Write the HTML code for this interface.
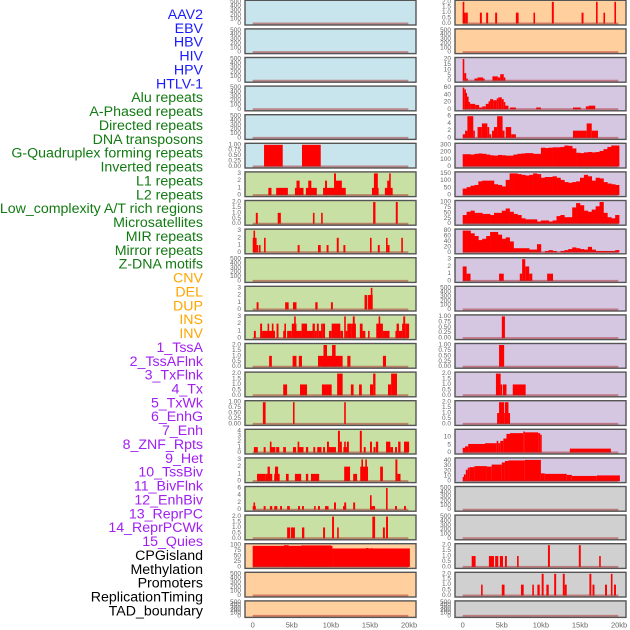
<!DOCTYPE html>
<html><head><meta charset="utf-8">
<style>
html,body{margin:0;padding:0;background:#fff;}
svg{display:block;font-family:"Liberation Sans",sans-serif;}
</style></head>
<body>
<svg id="chart" width="630" height="630" viewBox="0 0 630 630" xmlns="http://www.w3.org/2000/svg"></svg>
<script>
// ---------- labels ----------
const labelNames = ["AAV2","EBV","HBV","HIV","HPV","HTLV-1","Alu repeats","A-Phased repeats","Directed repeats","DNA transposons","G-Quadruplex forming repeats","Inverted repeats","L1 repeats","L2 repeats","Low_complexity A/T rich regions","Microsatellites","MIR repeats","Mirror repeats","Z-DNA motifs","CNV","DEL","DUP","INS","INV","1_TssA","2_TssAFlnk","3_TxFlnk","4_Tx","5_TxWk","6_EnhG","7_Enh","8_ZNF_Rpts","9_Het","10_TssBiv","11_BivFlnk","12_EnhBiv","13_ReprPC","14_ReprPCWk","15_Quies","CPGisland","Methylation","Promoters","ReplicationTiming","TAD_boundary"];
const labelGroups = [0,0,0,0,0,0,1,1,1,1,1,1,1,1,1,1,1,1,1,2,2,2,2,2,3,3,3,3,3,3,3,3,3,3,3,3,3,3,3,4,4,4,4,4];
const groupColors = ["#1a1aff","#127a12","#ffa500","#a020f0","#000000"];
const groupBg = ["#c8e4ec","#c8e0a4","#ffcf9e","#d5c6e2","#d0d0d0"];

// ---------- x axis ----------
const xTickValues = [0,5,10,15,20];
const xTickLabels = ["0","5kb","10kb","15kb","20kb"];

// ---------- per-panel data: segments [startKb, endKb, value] ----------
const segs_HTLV1 = [[1.45,3.84,1],[6.3,8.7,1]];
const segs_Alu = [[2.0,2.4,1],[3.0,4.5,1],[5.4,6.5,1],[5.6,6.0,2],[6.8,8.2,1],[7.1,7.5,2],[9.0,11.9,1],[9.25,9.5,2],[10.4,10.65,3],[10.65,11.4,2],[15.25,16.1,1],[15.5,16.0,3],[16.9,17.9,1],[17.2,17.6,2],[17.45,17.65,3]];
const segs_APhased = [[0.4,0.65,1],[3.2,3.6,1],[7.7,7.9,1],[8.75,8.95,1],[15.4,15.7,2],[18.3,18.55,2]];
const segs_Directed = [[0,0.5,2],[0.1,0.25,3],[0.5,0.7,1],[0.8,1.0,1],[1.45,1.65,2],[5.75,6.0,1],[8.35,8.7,1],[9.45,9.7,1],[10.75,11.0,2],[11.6,11.85,1],[15.0,15.2,2],[16.0,16.25,1],[17.05,17.25,2],[17.25,17.5,1],[19.0,19.2,2]];
const segs_GQuad = [[0.5,0.75,1],[4.15,4.6,1],[5.15,5.6,1],[8.0,8.3,1],[10.0,10.25,1],[14.3,14.65,2],[14.75,15.35,2],[15.1,15.2,3]];
const segs_Inverted = [[0.15,0.4,1],[0.95,1.2,2],[1.2,2.85,1],[1.9,2.05,2],[2.45,2.65,2],[3.05,3.3,2],[3.9,4.25,1],[4.05,4.25,2],[4.4,5.0,1],[5.0,5.6,2],[5.3,5.45,3],[5.6,6.25,1],[6.25,6.95,2],[6.95,7.65,1],[7.65,7.95,2],[7.95,8.2,1],[8.2,8.45,2],[8.45,8.8,1],[8.75,8.9,2],[8.95,9.25,2],[9.75,10.1,1],[10.1,11.2,2],[11.2,11.55,1],[11.7,11.9,3],[11.9,12.1,1],[12.1,12.65,2],[12.65,13.2,2],[12.8,13.05,3],[13.7,14.05,2],[14.05,14.4,1],[14.75,14.95,1],[15.8,16.65,2],[16.1,16.3,3],[16.65,17.5,1],[18.25,18.55,1],[18.4,18.7,2],[18.7,19.1,1],[19.1,19.4,2],[19.25,19.5,3],[19.5,20.0,2]];
const segs_L1 = [[2.1,2.45,1],[5.1,5.6,1],[5.9,6.3,1],[8.35,9.4,1],[9.05,9.5,2],[9.4,11.5,1],[10.15,10.6,2],[12.1,12.5,1],[16.65,17.05,1]];
const segs_L2 = [[3.9,4.4,1],[6.05,6.95,1],[8.85,10.1,1],[10.8,11.5,2],[12.55,12.9,1],[13.6,13.95,1],[15.0,15.4,1],[15.4,15.7,2],[17.3,17.7,1],[17.7,18.45,2]];
const segs_LowComplex = [[1.3,1.65,1],[5.15,5.35,1],[11.7,11.9,1]];
const segs_Micro = [[0.15,0.65,1],[1.4,1.65,1],[2.2,2.9,1],[2.2,2.4,2],[3.0,3.4,1],[3.9,4.25,1],[5.15,5.55,1],[5.75,6.5,1],[5.75,5.95,2],[6.8,7.1,1],[7.75,8.0,1],[8.25,8.8,1],[9.0,9.25,1],[9.5,9.75,2],[9.75,10.65,1],[10.9,11.15,4],[11.15,11.4,2],[11.6,12.05,1],[11.7,11.9,2],[12.05,12.3,2],[13.7,13.95,4],[14.2,14.45,1],[15.0,15.25,2],[15.45,15.7,1],[15.75,16.05,2],[17.05,17.6,2],[17.6,17.95,1],[18.2,18.45,1],[18.6,18.9,2],[19.35,20.0,2]];
const segs_MIR = [[0.55,1.6,1],[1.6,2.5,1],[1.9,2.2,2],[2.75,3.45,1],[2.85,3.25,2],[4.25,4.6,1],[5.4,6.2,1],[6.8,7.1,1],[7.45,8.5,1],[11.7,12.45,2],[12.85,13.35,1],[13.75,14.75,2],[13.9,14.05,3],[14.4,14.6,3],[16.3,16.65,2],[18.25,18.5,3],[18.5,18.9,1]];
const segs_Mirror = [[0,0.4,1],[0.1,0.3,2],[1.4,1.65,1],[2.2,2.5,1],[2.75,3.15,1],[3.5,3.75,1],[4.4,4.75,1],[5.8,6.05,1],[6.3,6.55,1],[7.85,8.05,1],[8.35,8.6,1],[9.25,9.7,1],[10.4,10.65,2],[11.55,11.95,1],[11.7,11.95,2],[12.85,13.1,2],[15.0,15.2,4],[15.2,15.65,1],[17.05,17.25,6],[18.2,18.45,1],[19.35,19.6,1]];
const segs_ZDNA = [[4.4,4.8,1],[4.9,5.4,1],[6.3,6.6,1],[9.0,9.25,1],[10.15,10.4,2],[10.8,11.0,1],[15.3,15.65,2],[16.65,16.9,1],[17.05,17.3,2]];
const segs_CNV = [[0,10.2,97],[4.0,4.6,100],[6.2,10.0,99],[10.2,20.1,85],[14.5,14.8,87],[15.1,15.3,86]];
const segs_INS = [[0,0.2,2],[0,0.4,1],[0.4,0.65,1],[2.2,2.45,1],[3.0,3.25,1],[4.15,4.4,1],[6.8,7.15,1],[9.05,9.25,1],[11.4,11.65,2],[15.2,15.45,1],[17.05,17.25,2],[18.0,18.2,1],[19.4,19.6,2]];
const segs_TssA = [[0,0.2,20],[0.2,0.45,7],[0.45,0.65,2],[1.5,1.9,2],[1.9,2.6,3],[2.6,2.75,2],[3.8,4.5,4],[4.5,4.8,3],[4.8,5.25,6],[5.25,5.45,3]];
const segs_TssAFlnk = [[0,0.2,60],[0.2,0.35,55],[0.35,0.55,45],[0.55,0.75,35],[0.75,0.95,20],[0.95,1.6,15],[1.6,2.1,12],[2.1,2.5,5],[2.5,2.95,8],[2.95,3.3,15],[3.3,3.5,22],[3.5,3.9,28],[3.9,4.35,25],[4.35,4.55,30],[4.55,5.0,33],[5.0,5.25,28],[5.25,5.4,20],[5.4,5.85,10],[6.05,6.8,5],[9.4,10.0,5],[14.1,15.1,5],[15.75,16.1,8],[16.1,16.95,10]];
const segs_TxFlnk = [[0,0.3,1],[0.3,0.6,2],[0.6,1.35,6],[1.35,1.55,2],[1.9,2.45,3],[2.45,3.15,4],[3.15,3.4,3],[3.4,3.65,1],[3.75,4.0,2],[4.0,4.4,3],[4.4,5.1,6],[5.1,5.35,2],[5.5,6.2,3],[6.2,6.8,1],[14.1,15.85,2],[15.85,16.5,4],[16.5,17.3,2]];
const segs_ZNF = [[0,0.5,2],[0.5,1.0,1],[4.65,5.25,1],[7.3,7.6,1],[7.6,8.0,3],[8.0,8.5,2],[8.5,8.9,1],[10.8,11.55,1]];
const segs_TssBiv = [[5.0,5.4,1]];
const segs_BivFlnk = [[4.65,5.3,1]];
const segs_EnhBiv = [[4.25,4.85,2],[4.85,5.0,1],[5.15,5.6,1],[6.4,8.05,1]];
const segs_ReprPC = [[4.4,4.65,1],[4.65,5.3,2],[5.3,5.4,1],[5.4,5.85,2],[5.85,6.05,1]];
const segs_ReprPCWk = [[0,0.3,3],[0.3,0.7,4],[0.7,2.85,5.5],[2.85,4.35,6],[4.35,4.55,7.5],[4.55,4.8,6],[4.8,5.2,7.5],[5.2,5.6,9],[5.6,6.05,12],[6.05,7.75,12.5],[7.75,7.95,13.5],[7.95,9.65,13],[9.65,9.9,12.5],[9.9,10.1,11.5],[13.7,18.95,2.5]];
const segs_Quies = [[0,0.15,8],[0.15,0.4,13],[0.4,0.65,22],[0.65,0.9,26],[0.9,1.5,27],[1.5,3.1,29],[3.1,3.7,28],[3.7,5.0,32],[5.0,5.4,36],[5.4,5.85,39],[5.85,7.95,40],[7.95,10.0,41],[10.0,10.5,15],[10.5,13.3,14],[13.3,13.95,12],[13.95,17.15,10],[17.15,20.1,11]];
const segs_Promoters = [[1.15,1.65,1],[3.35,4.0,1],[4.15,4.55,1],[4.75,5.15,1],[5.4,5.65,1],[6.95,7.15,1],[10.9,11.15,2],[14.85,15.1,2],[17.45,17.65,1]];
const segs_RepTiming = [[2.35,2.55,1],[5.0,5.35,1],[7.45,7.8,1],[8.9,9.05,1],[9.55,9.85,1],[10.1,10.35,2],[10.7,11.0,1],[11.7,11.95,2],[12.8,13.05,2],[13.05,13.3,1],[16.2,16.45,2],[16.6,16.85,1],[18.2,18.45,1],[18.95,19.15,2],[19.35,19.6,1]];

// ---------- dense per-panel data: 40 bins of 0.5kb ----------
const bins_Tx = [170,170,165,175,180,175,165,155,150,160,155,150,150,165,175,180,185,185,175,175,260,255,260,265,265,270,290,285,250,190,185,195,200,195,200,215,240,270,290,290];
const bins_TxWk = [45,55,65,70,95,100,100,100,75,70,60,105,150,150,145,140,135,140,150,145,120,125,125,130,120,105,90,85,90,95,120,140,130,100,120,115,90,80,75,70];
const bins_EnhG = [40,55,60,50,50,45,45,40,50,50,60,70,55,45,40,25,20,20,20,10,15,15,10,15,35,40,30,30,75,95,85,60,55,65,80,100,50,30,25,40];
const bins_Enh = [80,80,70,60,45,50,60,75,75,65,50,55,40,15,15,15,15,10,10,30,0,5,8,5,0,5,8,12,18,15,12,10,20,10,5,5,5,5,5,8];

// ---------- panel layout: [column, row, labelIndex, max, ticks, tickFormat, dataName] ----------
const panels = [
 [0,0,0,500,[0,100,200,300,400,500],0,null],
 [0,1,1,500,[0,100,200,300,400,500],0,null],
 [0,2,2,500,[0,100,200,300,400,500],0,null],
 [0,3,3,500,[0,100,200,300,400,500],0,null],
 [0,4,4,500,[0,100,200,300,400,500],0,null],
 [0,5,5,1,[0,0.25,0.5,0.75,1],2,segs_HTLV1],
 [0,6,6,3,[0,1,2,3],0,segs_Alu],
 [0,7,7,2,[0,0.5,1,1.5,2],1,segs_APhased],
 [0,8,8,3,[0,1,2,3],0,segs_Directed],
 [0,9,9,500,[0,100,200,300,400,500],0,null],
 [0,10,10,3,[0,1,2,3],0,segs_GQuad],
 [0,11,11,3,[0,1,2,3],0,segs_Inverted],
 [0,12,12,2,[0,0.5,1,1.5,2],1,segs_L1],
 [0,13,13,2,[0,0.5,1,1.5,2],1,segs_L2],
 [0,14,14,1,[0,0.25,0.5,0.75,1],2,segs_LowComplex],
 [0,15,15,4,[0,1,2,3,4],0,segs_Micro],
 [0,16,16,3,[0,1,2,3],0,segs_MIR],
 [0,17,17,6,[0,2,4,6],0,segs_Mirror],
 [0,18,18,2,[0,0.5,1,1.5,2],1,segs_ZDNA],
 [0,19,19,100,[0,25,50,75,100],0,segs_CNV],
 [0,20,20,500,[0,100,200,300,400,500],0,null],
 [0,21,21,500,[0,100,200,300,400,500],0,null],
 [1,0,22,2,[0,0.5,1,1.5,2],1,segs_INS],
 [1,1,23,500,[0,100,200,300,400,500],0,null],
 [1,2,24,20,[0,5,10,15,20],0,segs_TssA],
 [1,3,25,60,[0,20,40,60],0,segs_TssAFlnk],
 [1,4,26,6,[0,2,4,6],0,segs_TxFlnk],
 [1,5,27,300,[0,100,200,300],0,bins_Tx],
 [1,6,28,150,[0,50,100,150],0,bins_TxWk],
 [1,7,29,100,[0,25,50,75,100],0,bins_EnhG],
 [1,8,30,80,[0,20,40,60,80],0,bins_Enh],
 [1,9,31,3,[0,1,2,3],0,segs_ZNF],
 [1,10,32,500,[0,100,200,300,400,500],0,null],
 [1,11,33,1,[0,0.25,0.5,0.75,1],2,segs_TssBiv],
 [1,12,34,1,[0,0.25,0.5,0.75,1],2,segs_BivFlnk],
 [1,13,35,2,[0,0.5,1,1.5,2],1,segs_EnhBiv],
 [1,14,36,2,[0,0.5,1,1.5,2],1,segs_ReprPC],
 [1,15,37,14,[0,5,10],0,segs_ReprPCWk],
 [1,16,38,42,[0,10,20,30,40],0,segs_Quies],
 [1,17,39,500,[0,100,200,300,400,500],0,null],
 [1,18,40,500,[0,100,200,300,400,500],0,null],
 [1,19,41,2,[0,0.5,1,1.5,2],1,segs_Promoters],
 [1,20,42,2,[0,0.5,1,1.5,2],1,segs_RepTiming],
 [1,21,43,500,[0,100,200,300,400,500],0,null]
];

const NS = "http://www.w3.org/2000/svg";
const svg = document.getElementById("chart");
function mk(tag, attrs, parent){
  const e = document.createElementNS(NS, tag);
  for (const k in attrs) e.setAttribute(k, attrs[k]);
  (parent||svg).appendChild(e);
  return e;
}
const colLeft = [245, 455];
const colWidth = 171;
const kb0 = [252.7, 462.7];
const pxPerKb = 7.82;
function xScale(col, kb){ return kb0[col] + kb * pxPerKb; }
function rowTop(r){ return 0.3 + 28.6 * r; }
function rowHeight(r){ return r === 21 ? 16.5 : 24.7; }
function yScale(r, max, v){
  const t = rowTop(r), h = rowHeight(r);
  return t + h - 1.5 - (v / max) * (h - 3);
}

// labels
labelNames.forEach(function(name, i){
  const t = mk("text", {x:203, y:15 + 13.87 * i, "text-anchor":"end", "dominant-baseline":"central", "font-size":"14.2", fill:groupColors[labelGroups[i]]});
  
  
  t.textContent = name;
});

// panels
panels.forEach(function(p){
  const col = p[0], r = p[1], li = p[2], max = p[3], ticks = p[4], fmt = p[5], data = p[6];
  const g = mk("g", {});
  
  
  const t = rowTop(r), h = rowHeight(r), x = colLeft[col];
  const bg = mk("rect", {x:x, y:t, width:colWidth, height:h, fill:groupBg[labelGroups[li]]}, g);
  
  
  if (data) {
    if (typeof data[0] === "number") {
      data.forEach(function(v, i){
        if (v <= 0) return;
        const x1 = xScale(col, i * 0.5), x2 = xScale(col, (i + 1) * 0.5);
        const y = yScale(r, max, v), y0 = yScale(r, max, 0);
        const b = mk("rect", {x:x1, y:y, width:x2 - x1 + 0.3, height:y0 - y, fill:"#ff0000"}, g);
        
        
      });
    } else {
      data.forEach(function(s){
        const x1 = xScale(col, s[0]), x2 = xScale(col, s[1]);
        const y = yScale(r, max, s[2]), y0 = yScale(r, max, 0);
        const b = mk("rect", {x:x1, y:y, width:Math.max(1.6, x2 - x1), height:y0 - y, fill:"#ff0000"}, g);
        
        
      });
    }
  }
  const bl = mk("line", {x1:xScale(col,0), x2:xScale(col,19.9), y1:yScale(r,max,0), y2:yScale(r,max,0), stroke:"rgba(170,40,40,0.5)", "stroke-width":2}, g);
  
  
  const fr = mk("rect", {x:x, y:t, width:colWidth, height:h, fill:"none", stroke:"#555", "stroke-width":1.4}, g);
  
  
  ticks.forEach(function(v){
    const lbl = fmt === 2 ? v.toFixed(2) : (fmt === 1 ? v.toFixed(1) : String(v));
    const tt = mk("text", {x:x - 4, y:yScale(r, max, v), "text-anchor":"end", "dominant-baseline":"central", "font-size":"6.5", fill:"#666"}, g);
    
    
    tt.textContent = lbl;
  });
});

// x axes
[0,1].forEach(function(col){
  xTickValues.forEach(function(v, i){
    const tt = mk("text", {x:xScale(col, v), y:625, "text-anchor":"middle", "dominant-baseline":"central", "font-size":"7.5", fill:"#666"});
    
    
    tt.textContent = xTickLabels[i];
  });
});
</script>
</body></html>
